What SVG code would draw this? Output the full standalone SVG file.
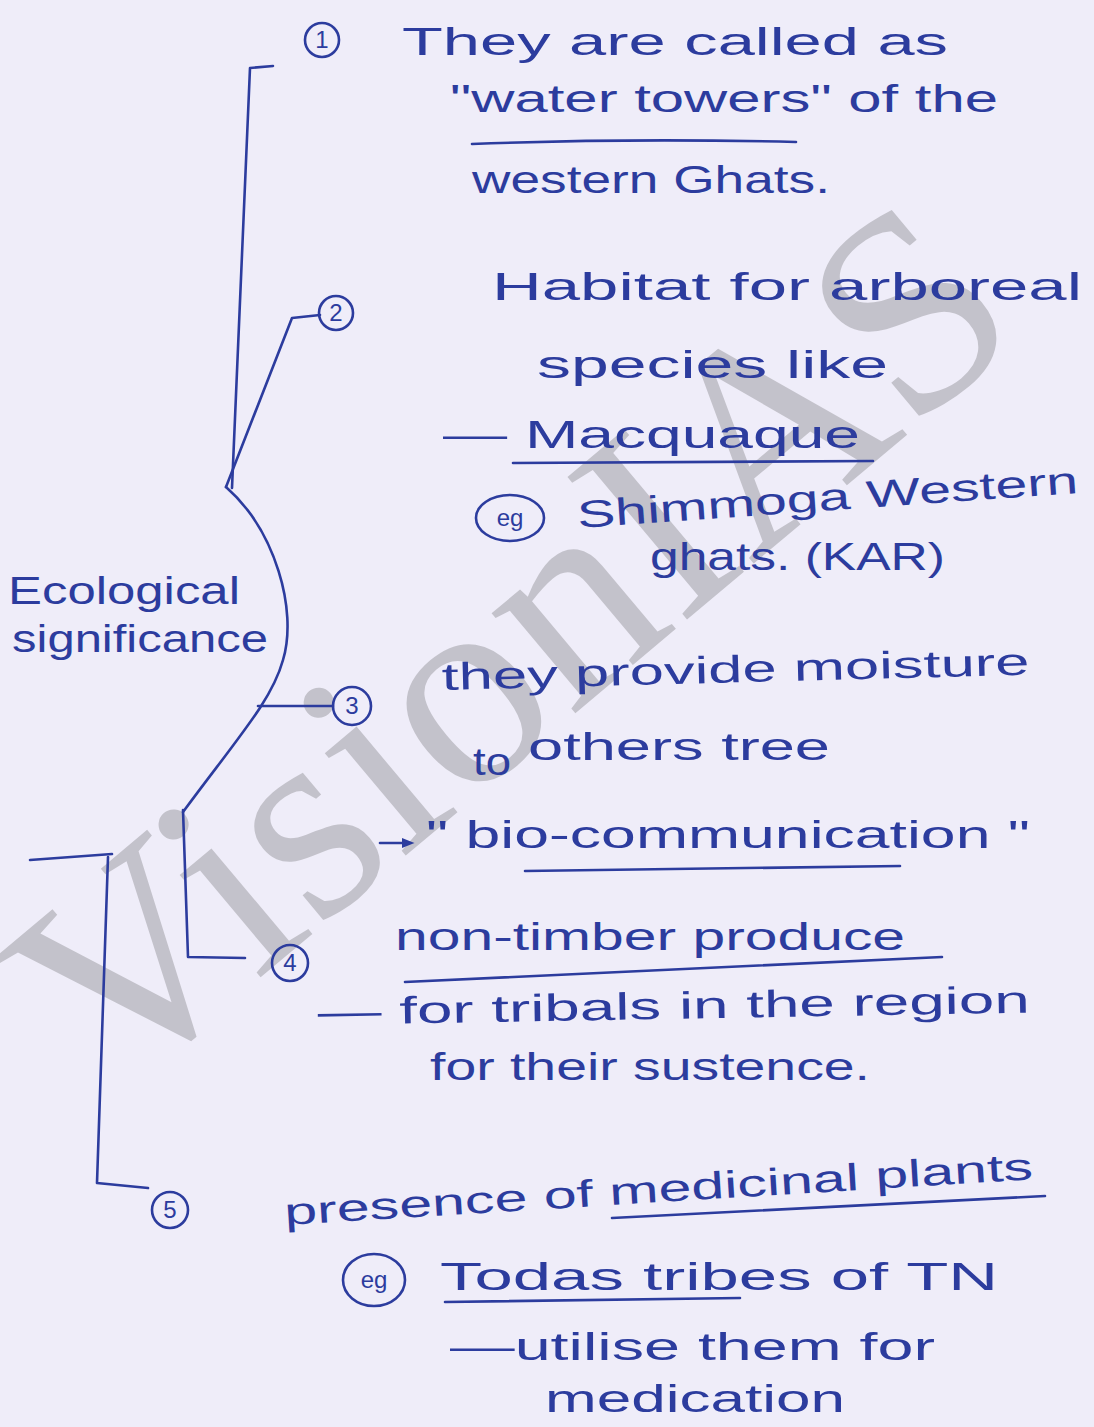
<svg xmlns="http://www.w3.org/2000/svg" width="1094" height="1427" viewBox="0 0 1094 1427">
<defs>
<style>
.bg{fill:#efedf9}
.wm{font-family:"Liberation Serif","Times New Roman",serif;font-size:284px;fill:#bcbbc3;opacity:0.85}
.h{font-family:"Liberation Sans",Arial,sans-serif;font-size:38px;fill:#2c3c9e}
.n{font-family:"Liberation Sans",Arial,sans-serif;font-size:24px;fill:#2c3c9e;text-anchor:middle}
.ink{fill:none;stroke:#2c3c9e;stroke-width:2.6;stroke-linecap:round;stroke-linejoin:round}
</style>
<marker id="ah" viewBox="0 0 10 10" refX="5" refY="5" markerWidth="5" markerHeight="5" orient="auto">
<path d="M0,1 L10,5 L0,9 Z" fill="#2c3c9e"/>
</marker>
</defs>
<rect class="bg" x="0" y="0" width="1094" height="1427"/>
<text class="wm" x="112" y="1102" transform="rotate(-40 112 1102)">VisionIAS</text>

<g id="connectors">
<path class="ink" d="M273,66 L250,68 L232,488"/>
<path class="ink" d="M226,487 L292,318 L320,315"/>
<path class="ink" d="M226,487 C275,530 298,610 283,660 C272,700 240,735 183,812"/>
<path class="ink" d="M258,706 L333,706"/>
<path class="ink" d="M183,810 L188,957 L245,958"/>
<path class="ink" d="M30,860 L112,854"/>
<path class="ink" d="M108,857 L97,1183 L148,1188"/>
<path class="ink" d="M380,843 L408,843" marker-end="url(#ah)"/>
</g>

<g id="root">
<text class="h" x="8" y="604" textLength="232" lengthAdjust="spacingAndGlyphs">Ecological</text>
<text class="h" x="12" y="652" textLength="256" lengthAdjust="spacingAndGlyphs">significance</text>
</g>

<g id="item1">
<circle class="ink" cx="322" cy="40" r="17"/>
<text class="n" x="322" y="48">1</text>
<text class="h" x="402" y="55" textLength="546" lengthAdjust="spacingAndGlyphs">They are called as</text>
<text class="h" x="450" y="112" textLength="548" lengthAdjust="spacingAndGlyphs">"water towers" of the</text>
<path class="ink" d="M472,144 Q630,138 796,142"/>
<text class="h" x="472" y="193" textLength="358" lengthAdjust="spacingAndGlyphs">western Ghats.</text>
</g>

<g id="item2">
<circle class="ink" cx="336" cy="313" r="17"/>
<text class="n" x="336" y="321">2</text>
<text class="h" x="492" y="300" textLength="590" lengthAdjust="spacingAndGlyphs">Habitat for arboreal</text>
<text class="h" x="537" y="378" textLength="351" lengthAdjust="spacingAndGlyphs">species like</text>
<text class="h" x="443" y="448" textLength="417" lengthAdjust="spacingAndGlyphs">— Macquaque</text>
<path class="ink" d="M513,463 L873,461"/>
<ellipse class="ink" cx="510" cy="518" rx="34" ry="23"/>
<text class="n" x="510" y="526">eg</text>
<text class="h" x="578" y="528" textLength="502" lengthAdjust="spacingAndGlyphs" transform="rotate(-4 578 528)">Shimmoga Western</text>
<text class="h" x="650" y="570" textLength="295" lengthAdjust="spacingAndGlyphs">ghats. (KAR)</text>
</g>

<g id="item3">
<circle class="ink" cx="352" cy="706" r="19"/>
<text class="n" x="352" y="714">3</text>
<text class="h" x="442" y="690" textLength="588" lengthAdjust="spacingAndGlyphs" transform="rotate(-1.5 442 690)">they provide moisture</text>
<text class="h" x="473" y="775" textLength="38" lengthAdjust="spacingAndGlyphs">to</text>
<text class="h" x="528" y="760" textLength="302" lengthAdjust="spacingAndGlyphs">others tree</text>
<text class="h" x="426" y="848" textLength="604" lengthAdjust="spacingAndGlyphs">" bio-communication "</text>
<path class="ink" d="M525,871 L900,866"/>
</g>

<g id="item4">
<circle class="ink" cx="290" cy="963" r="18"/>
<text class="n" x="290" y="971">4</text>
<text class="h" x="395" y="950" textLength="510" lengthAdjust="spacingAndGlyphs">non-timber produce</text>
<path class="ink" d="M405,982 L942,957"/>
<text class="h" x="318" y="1025" textLength="712" lengthAdjust="spacingAndGlyphs" transform="rotate(-1 318 1025)">— for tribals in the region</text>
<text class="h" x="430" y="1080" textLength="440" lengthAdjust="spacingAndGlyphs">for their sustence.</text>
</g>

<g id="item5">
<circle class="ink" cx="170" cy="1210" r="18"/>
<text class="n" x="170" y="1218">5</text>
<text class="h" x="285" y="1225" textLength="750" lengthAdjust="spacingAndGlyphs" transform="rotate(-3.5 285 1225)">presence of medicinal plants</text>
<path class="ink" d="M612,1218 L1045,1196"/>
<ellipse class="ink" cx="374" cy="1280" rx="31" ry="26"/>
<text class="n" x="374" y="1288">eg</text>
<text class="h" x="440" y="1290" textLength="558" lengthAdjust="spacingAndGlyphs">Todas tribes of TN</text>
<path class="ink" d="M445,1302 L740,1298"/>
<text class="h" x="450" y="1360" textLength="485" lengthAdjust="spacingAndGlyphs">—utilise them for</text>
<text class="h" x="545" y="1412" textLength="300" lengthAdjust="spacingAndGlyphs">medication</text>
</g>
</svg>
